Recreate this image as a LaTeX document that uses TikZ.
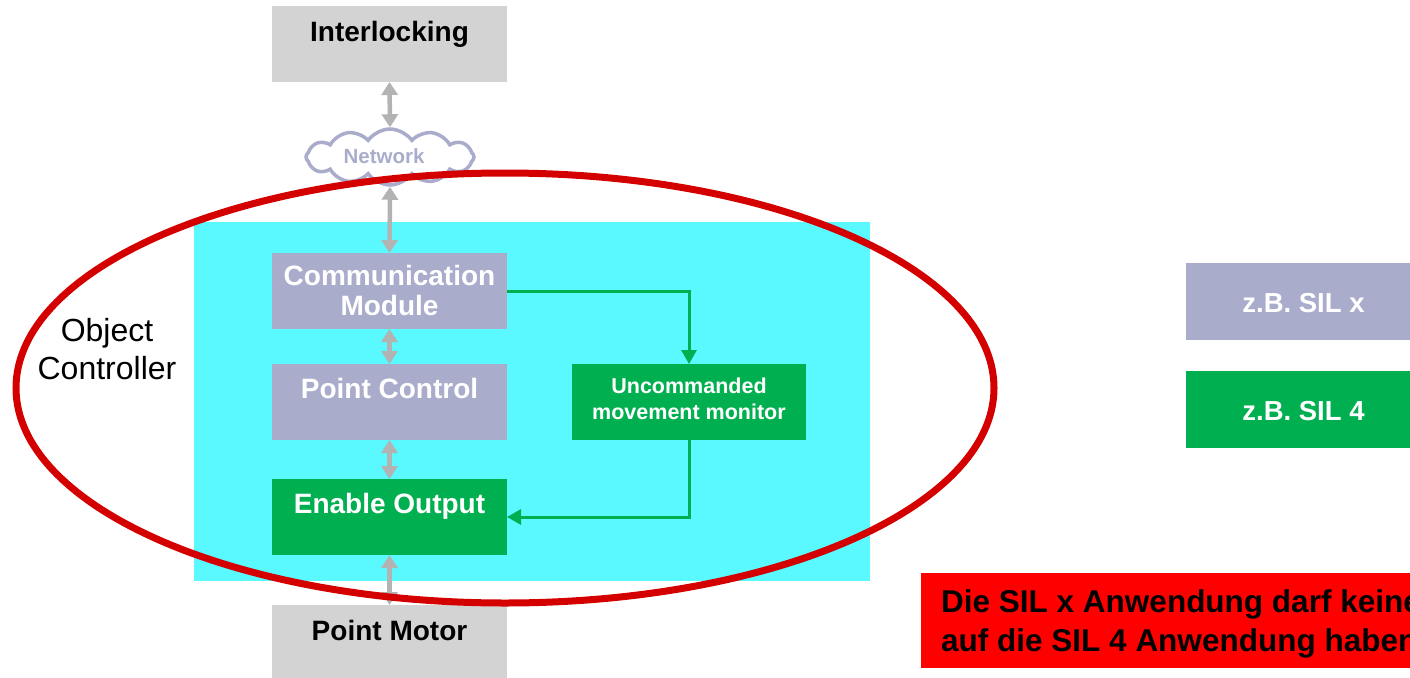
\documentclass[tikz,border=0pt]{standalone}
\usepackage{fontspec}
\setmainfont{Liberation Sans}
\usetikzlibrary{shapes.geometric,shapes.symbols,arrows.meta}

\definecolor{lav}{RGB}{170,172,204}
\definecolor{grn}{RGB}{0,176,80}
\definecolor{boxgray}{RGB}{211,211,211}
\definecolor{arrgray}{RGB}{179,179,179}
\definecolor{cyanbg}{RGB}{90,248,255}
\definecolor{ovalred}{RGB}{212,0,0}
\definecolor{notered}{RGB}{255,0,0}

\newcommand\setfs[2]{\fontsize{#1}{#2}\selectfont}

\begin{document}
\begin{tikzpicture}[x=1pt,y=-1pt,
  blk/.style={anchor=north west, inner sep=0pt, outer sep=0pt,
              minimum width=235pt, minimum height=76pt},
  txt/.style={inner sep=0pt, font=\setfs{28}{30}\bfseries},
  gray arrow/.style={draw=arrgray, line width=4.5pt,
     {Triangle[width=16pt,length=13pt]}-{Triangle[width=16pt,length=13pt]}},
  green arrow/.style={draw=grn, line width=3pt,
     -{Triangle[width=15pt,length=14pt]}},
]
\useasboundingbox (0,0) rectangle (1410,677);

% object controller area
\node[anchor=north west, inner sep=0pt, minimum width=676pt, minimum height=359pt,
      fill=cyanbg] (area) at (194,222) {};

% main chain of blocks
\node[blk, fill=boxgray] (ilk) at (272,6) {};
\node[blk, fill=lav]     (cm)  at (272,253) {};
\node[blk, fill=lav]     (pc)  at (272,364) {};
\node[blk, fill=grn]     (eo)  at (272,479) {};
\node[blk, fill=boxgray, minimum height=80pt] (pm) at (272,605) {};
\node[blk, fill=grn, minimum width=234pt] (um) at (572,364) {};

% network cloud
\node[cloud, cloud puffs=12, cloud puff arc=110, cloud ignores aspect,
      draw=lav, line width=3.5pt, fill=white, inner sep=0pt,
      minimum width=168pt, minimum height=56pt] (net) at (390,157) {};
\node[inner sep=0pt, anchor=base, text=lav, font=\setfs{20.5}{24}\bfseries]
      (netT) at (384,163) {Network};

% block labels
\node[txt, anchor=base] (ilkT) at (389.5,41.5) {Interlocking};
\node[txt, align=center, text=white] (cmT) at (389.5,290.5) {Communication\\Module};
\node[txt, anchor=base, text=white] (pcT) at (389.5,398) {Point Control};
\node[txt, anchor=base, text=white] (eoT) at (389.5,513) {Enable Output};
\node[txt, anchor=base] (pmT) at (389.5,640) {Point Motor};
\node[txt, align=center, text=white, font=\setfs{21.5}{26}\bfseries] (umT)
      at (689,398.5) {Uncommanded\\movement monitor};

% bidirectional links
\draw[gray arrow] (ilk.south) -- (net.north);
\draw[gray arrow] (net.south) -- (cm.north);
\draw[gray arrow] (cm.south) -- (pc.north);
\draw[gray arrow] (pc.south) -- (eo.north);
\draw[gray arrow] (eo.south) -- (pm.north);

% monitoring path
\draw[green arrow] (cm.east) -| (um.north);
\draw[green arrow] (um.south) |- (eo.east);

% object controller outline
\node[ellipse, draw=ovalred, line width=7pt, inner sep=0pt,
      minimum width=978pt, minimum height=430pt] (oc) at (505,388) {};
\node[inner sep=0pt, align=center, font=\setfs{32}{38}] (ocT)
      at (107,349.5) {Object\\Controller};

% legend
\node[blk, fill=lav, minimum height=77pt] (silx) at (1186,263) {};
\node[blk, fill=grn, minimum height=77pt] (sil4) at (1186,371) {};
\node[txt, anchor=base, text=white, font=\setfs{27.5}{30}\bfseries] (silxT)
      at (1303.5,312) {z.B. SIL x};
\node[txt, anchor=base, text=white, font=\setfs{27.5}{30}\bfseries] (sil4T)
      at (1303.5,420) {z.B. SIL 4};

% note
\node[anchor=north west, inner sep=0pt, minimum width=520pt, minimum height=95pt,
      fill=notered] (note) at (921,573) {};
\node[inner sep=0pt, anchor=west, align=left, font=\setfs{31.5}{38.5}\bfseries] (noteT)
      at (941,624) {Die SIL x Anwendung darf keine\\auf die SIL 4 Anwendung haben};
\end{tikzpicture}
\end{document}
